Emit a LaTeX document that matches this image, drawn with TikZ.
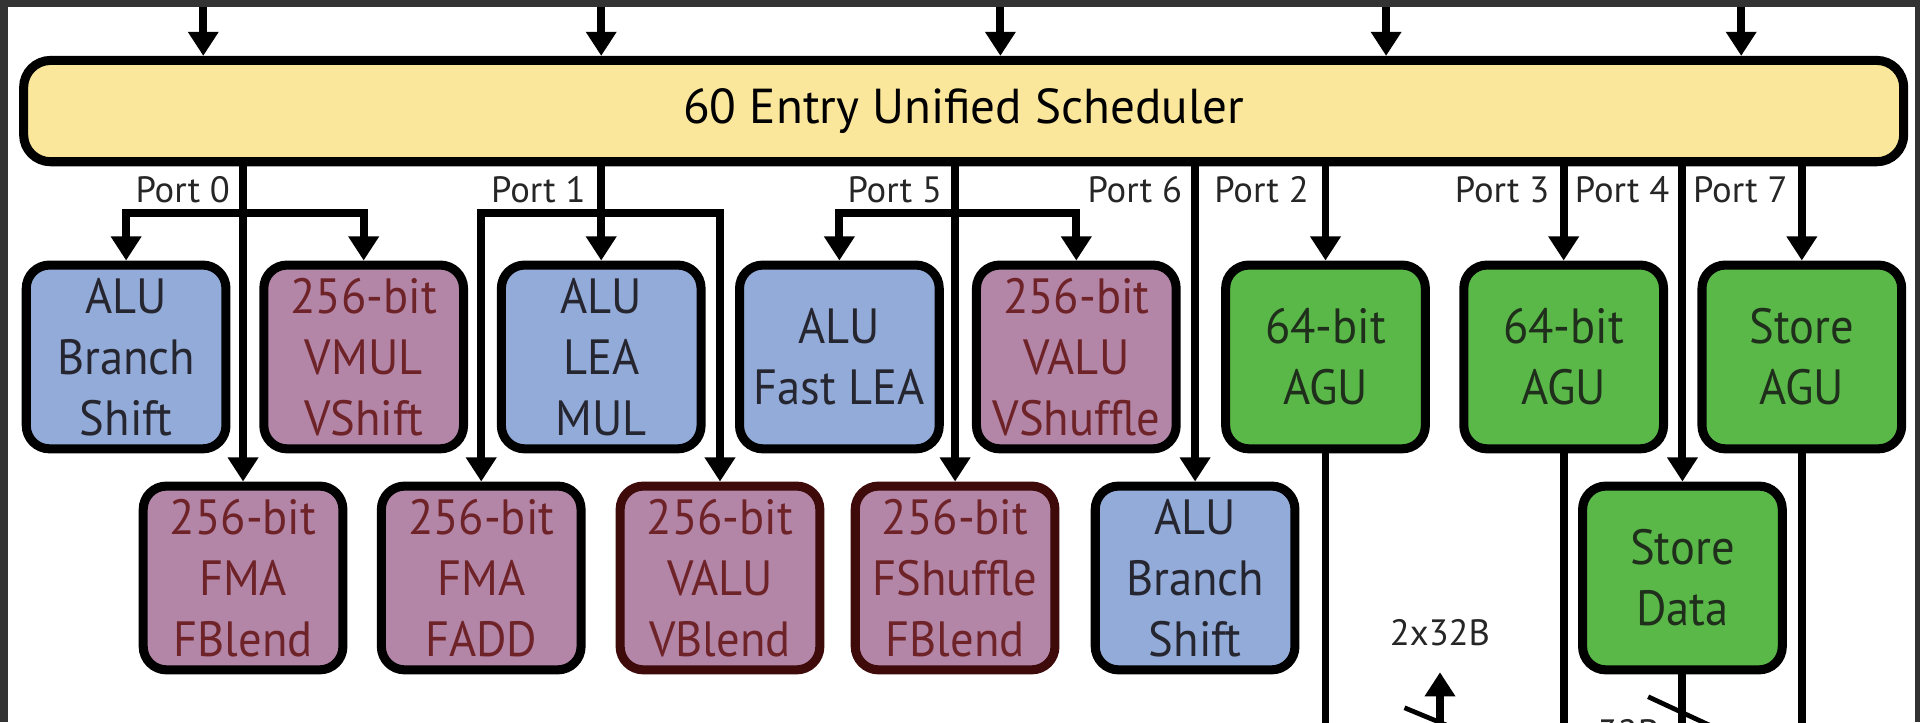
\documentclass[tikz,border=0pt]{standalone}
\usepackage{fontspec}
\setmainfont{PT Sans}
\newfontfamily\boxfont{PT Sans}[FakeStretch=0.94]
\usetikzlibrary{arrows.meta}
\definecolor{schedY}{HTML}{FBE79B}
\definecolor{aluB}{HTML}{93ABD9}
\definecolor{vecM}{HTML}{B385A6}
\definecolor{aguG}{HTML}{5AB849}
\definecolor{vecT}{HTML}{6E2328}
\definecolor{vecD}{HTML}{3E0A0A}
\definecolor{frameG}{HTML}{333333}
\definecolor{aluT}{HTML}{262630}
\definecolor{aguT}{HTML}{1F2F1C}
\tikzset{
  unitbox/.style={rounded corners=0.19cm, line width=2.1pt, minimum width=1.63cm,
    minimum height=1.5cm, align=center, inner sep=0pt,
    font=\boxfont\fontsize{11.5}{14.2}\selectfont},
  alubox/.style={unitbox, draw=black, fill=aluB, text=aluT},
  vecbox/.style={unitbox, draw=black, fill=vecM, text=vecT},
  vecboxd/.style={unitbox, draw=vecD, fill=vecM, text=vecT},
  agubox/.style={unitbox, draw=black, fill=aguG, text=aguT},
  conn/.style={line width=1.85pt, line join=miter},
  arr/.style={conn, -{Triangle[width=6.8pt,length=5.6pt]}},
  portlbl/.style={font=\fontsize{8.5}{10}\selectfont, anchor=east, inner sep=0pt, text=black!85},
  slash/.style={line width=1.1pt},
}
\begin{document}
\begin{tikzpicture}[x=0.01cm, y=-0.01cm]
\useasboundingbox (0,0) rectangle (1568,590);
\clip (0,0) rectangle (1568,590);
\fill[white] (0,0) rectangle (1568,590);

% scheduler
\node[draw=black, fill=schedY, line width=2.1pt, rounded corners=0.22cm,
      minimum width=15.345cm, minimum height=0.827cm, inner sep=0pt,
      font=\fontsize{11.4}{13}\selectfont] (sched) at (787,90.7) {60 Entry Unified Scheduler};

% top row
\node[alubox] (aluA) at (103,291.5) {ALU\\Branch\\Shift};
\node[vecbox] (vmul) at (297,291.5) {256-bit\\VMUL\\VShift};
\node[alubox] (aluB) at (491,291.5) {ALU\\LEA\\MUL};
\node[alubox] (aluC) at (685.5,291.5) {ALU\\Fast LEA};
\node[vecbox] (vshuf) at (879,291.5) {256-bit\\VALU\\VShuffle};
\node[agubox] (aguA) at (1082.5,291.5) {64-bit\\AGU};
\node[agubox] (aguB) at (1277,291.5) {64-bit\\AGU};
\node[agubox] (sagu) at (1471.5,291.5) {Store\\AGU};

% bottom row
\node[vecbox] (fmaA) at (198.5,472) {256-bit\\FMA\\FBlend};
\node[vecbox] (fmaB) at (393,472) {256-bit\\FMA\\FADD};
\node[vecboxd] (valuB) at (588,472) {256-bit\\VALU\\VBlend};
\node[vecboxd] (fshuf) at (780,472) {256-bit\\FShuffle\\FBlend};
\node[alubox] (aluD) at (976,472) {ALU\\Branch\\Shift};
\node[agubox] (sdata) at (1374,472) {Store\\Data};

% inputs from top
\coordinate (t1) at (166,0);
\coordinate (t2) at (491,0);
\coordinate (t3) at (817,0);
\coordinate (t4) at (1132,0);
\coordinate (t5) at (1422,0);
\foreach \t in {t1,t2,t3,t4,t5} \draw[arr] (\t) -- (\t |- sched.north);

% branch level
\coordinate (br) at (0,174);
\coordinate (lbly) at (0,155);

% Port 0
\draw[arr] (sched.south -| fmaA.north) -- (fmaA.north);
\draw[arr] (fmaA.north |- br) -| (aluA.north);
\draw[arr] (fmaA.north |- br) -| (vmul.north);
\node[portlbl] (p0) at ([xshift=-0.1cm]fmaA.north |- lbly) {Port 0};

% Port 1
\draw[arr] (sched.south -| aluB.north) -- (aluB.north);
\draw[arr] (aluB.north |- br) -| (fmaB.north);
\draw[arr] (aluB.north |- br) -| (valuB.north);
\node[portlbl] (p1) at ([xshift=-0.12cm]aluB.north |- lbly) {Port 1};

% Port 5
\draw[arr] (sched.south -| fshuf.north) -- (fshuf.north);
\draw[arr] (fshuf.north |- br) -| (aluC.north);
\draw[arr] (fshuf.north |- br) -| (vshuf.north);
\node[portlbl] (p5) at ([xshift=-0.1cm]fshuf.north |- lbly) {Port 5};

% Port 6
\draw[arr] (sched.south -| aluD.north) -- (aluD.north);
\node[portlbl] (p6) at ([xshift=-0.1cm]aluD.north |- lbly) {Port 6};

% Port 2
\draw[arr] (sched.south -| aguA.north) -- (aguA.north);
\node[portlbl] (p2) at ([xshift=-0.13cm]aguA.north |- lbly) {Port 2};

% Port 3
\draw[arr] (sched.south -| aguB.north) -- (aguB.north);
\node[portlbl] (p3) at ([xshift=-0.11cm]aguB.north |- lbly) {Port 3};

% Port 4
\draw[arr] (sched.south -| sdata.north) -- (sdata.north);
\node[portlbl] (p4) at ([xshift=-0.1cm]sdata.north |- lbly) {Port 4};

% Port 7
\draw[arr] (sched.south -| sagu.north) -- (sagu.north);
\node[portlbl] (p7) at ([xshift=-0.11cm]sagu.north |- lbly) {Port 7};

% outputs down
\coordinate (bot) at (0,600);
\draw[conn] (aguA.south) -- (aguA.south |- bot);
\draw[conn] (aguB.south) -- (aguB.south |- bot);
\draw[conn] (sagu.south) -- (sagu.south |- bot);
\draw[conn] (sdata.south) -- (sdata.south |- bot);

% 2x32B bus
\node[font=\fontsize{8.5}{10}\selectfont, text=black!85] (bw) at (1176,517) {2x32B};
\coordinate (ubase) at (1176,600);
\coordinate (utip) at (1176,549);
\draw[arr] (ubase) -- (utip);
\coordinate (s1a) at (1147,578);
\coordinate (s1b) at (1205,602);
\draw[slash] (s1a) -- (s1b);
\coordinate (s2a) at (1346,569);
\coordinate (s2b) at (1402,595);
\draw[slash] (s2a) -- (s2b);
\node[font=\fontsize{8.5}{10}\selectfont, text=black!85] (bw2) at (1330,598) {32B};

% frame
\fill[frameG] (0,0) rectangle (1568,6);
\fill[frameG] (0,0) rectangle (6.5,590);
\fill[frameG] (1564,0) rectangle (1568,590);
\end{tikzpicture}
\end{document}
